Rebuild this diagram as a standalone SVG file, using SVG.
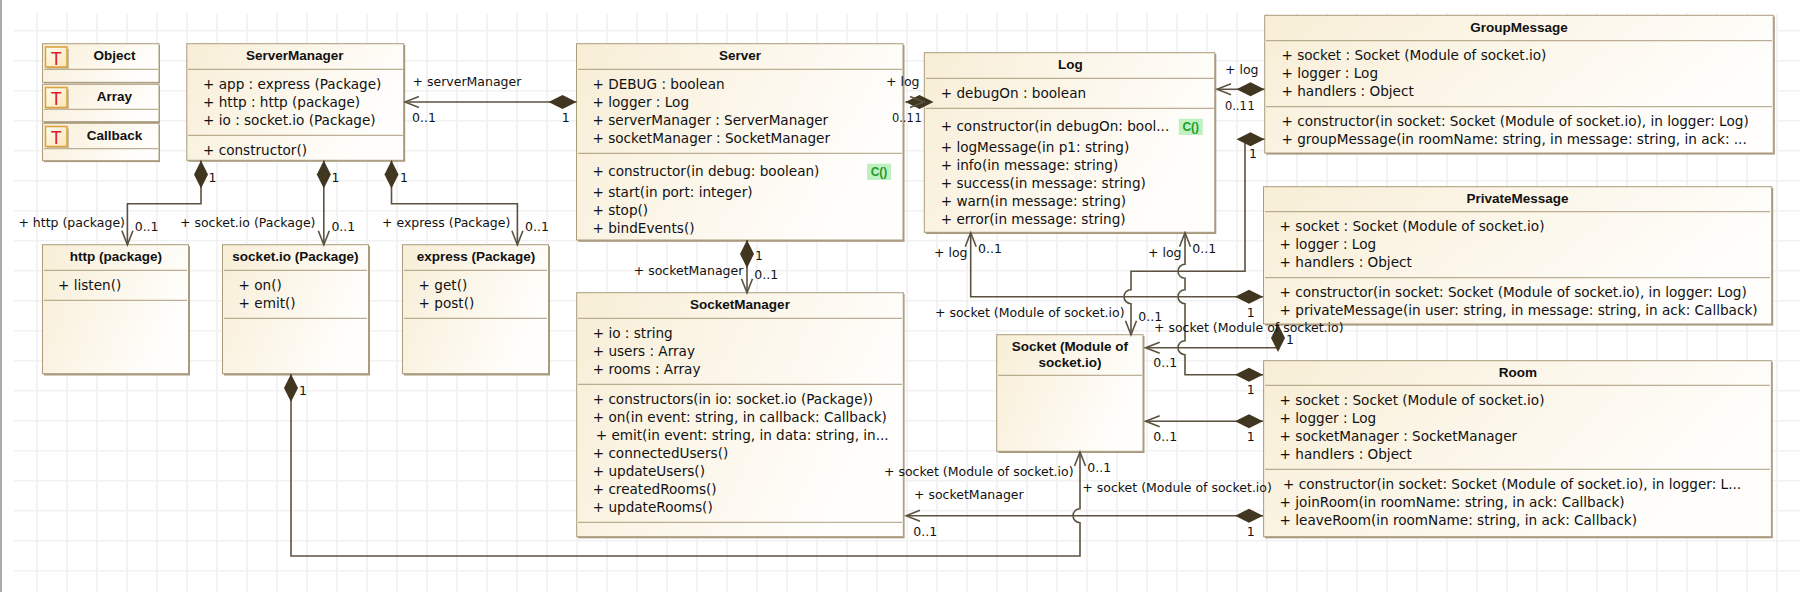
<svg xmlns="http://www.w3.org/2000/svg" width="1800" height="592" viewBox="0 0 1800 592">
<style>
text{font-family:"DejaVu Sans",sans-serif;fill:#111}
.t{font-family:"Liberation Sans",sans-serif;font-weight:700;font-size:13.5px;text-anchor:middle}
.r{font-size:13.6px}
.l{font-size:12.5px}
.m{font-size:11.4px}
.box{fill:url(#g);stroke:#ab9c7c;stroke-width:1}
.sh{fill:#a89a80}
.d{stroke:#ab9c7c;stroke-width:1;fill:none}
.c{fill:none;stroke:#5c5240;stroke-width:1.6}
.ic{fill:url(#ig);stroke:#dba23f;stroke-width:1.6}
.ish{fill:#c9bfa8}
.it{font-family:"Liberation Sans",sans-serif;font-size:18px;fill:#dc1c2c;text-anchor:middle}
.bd{fill:#bff0c0}
.bt{font-family:"Liberation Sans",sans-serif;font-weight:700;font-size:12px;fill:#1c9c2c;text-anchor:middle}
.grid{stroke:#f1f1f1;stroke-width:1.6;fill:none}
</style>
<defs>
<linearGradient id="g" x1="0" y1="0" x2="1" y2="0.35"><stop offset="0" stop-color="#f8eed6"/><stop offset="1" stop-color="#fffefc"/></linearGradient>
<linearGradient id="ig" x1="0" y1="0" x2="1" y2="1"><stop offset="0" stop-color="#fffdf5"/><stop offset="1" stop-color="#fbe6b4"/></linearGradient>
<marker id="dia" markerUnits="userSpaceOnUse" markerWidth="30" markerHeight="16" viewBox="0 0 30 16" refX="1" refY="8" orient="auto"><path d="M1 8L15 1L29 8L15 15Z" fill="#413721"/></marker>
<marker id="arr" markerUnits="userSpaceOnUse" markerWidth="18" markerHeight="16" viewBox="0 0 18 16" refX="16" refY="8" orient="auto"><path d="M2 2.5L16 8L2 13.5" fill="none" stroke="#5c5240" stroke-width="1.6"/></marker>
</defs>
<rect width="1800" height="592" fill="#fff"/>
<rect width="2" height="592" fill="#aaa"/>
<path class="grid" d="M14 30.7H1800M14 60.7H1800M14 90.7H1800M14 120.7H1800M14 150.7H1800M14 180.7H1800M14 210.7H1800M14 240.7H1800M14 270.7H1800M14 300.7H1800M14 330.7H1800M14 360.7H1800M14 390.7H1800M14 420.7H1800M14 450.7H1800M14 480.7H1800M14 510.7H1800M14 540.7H1800M14 570.7H1800"/>
<path class="grid" d="M37 13V592M67 13V592M97 13V592M127 13V592M157 13V592M187 13V592M217 13V592M247 13V592M277 13V592M307 13V592M337 13V592M367 13V592M397 13V592M427 13V592M457 13V592M487 13V592M517 13V592M547 13V592M577 13V592M607 13V592M637 13V592M667 13V592M697 13V592M727 13V592M757 13V592M787 13V592M817 13V592M847 13V592M877 13V592M907 13V592M937 13V592M967 13V592M997 13V592M1027 13V592M1057 13V592M1087 13V592M1117 13V592M1147 13V592M1177 13V592M1207 13V592M1237 13V592M1267 13V592M1297 13V592M1327 13V592M1357 13V592M1387 13V592M1417 13V592M1447 13V592M1477 13V592M1507 13V592M1537 13V592M1567 13V592M1597 13V592M1627 13V592M1657 13V592M1687 13V592M1717 13V592M1747 13V592M1777 13V592"/>

<g id="Object"><rect class="sh" x="44" y="45" width="116" height="38.5"/><rect class="box" x="42.5" y="43.7" width="116.5" height="38.6"/><path class="d" d="M44 69.3H158"/><rect class="ish" x="47" y="49" width="22" height="20"/><rect class="ic" x="45.5" y="47" width="21.5" height="20"/><text class="it" x="56.2" y="65">T</text><text class="t" x="114.5" y="60">Object</text></g>
<g id="Array"><rect class="sh" x="44" y="85.6" width="116" height="37.5"/><rect class="box" x="42.5" y="84.3" width="116.5" height="37.4"/><path class="d" d="M44 109.3H158"/><rect class="ish" x="47" y="89.5" width="22" height="20"/><rect class="ic" x="45.5" y="87.5" width="21.5" height="20"/><text class="it" x="56.2" y="105">T</text><text class="t" x="114.5" y="101">Array</text></g>
<g id="Callback"><rect class="sh" x="44" y="124.6" width="116" height="37.5"/><rect class="box" x="42.5" y="123.3" width="116.5" height="37.4"/><path class="d" d="M44 148.7H158"/><rect class="ish" x="47" y="128.5" width="22" height="20"/><rect class="ic" x="45.5" y="126.5" width="21.5" height="20"/><text class="it" x="56.2" y="144.3">T</text><text class="t" x="114.5" y="140">Callback</text></g>

<g id="ServerManager"><rect class="sh" x="188.3" y="45" width="216.9" height="116.8"/><rect class="box" x="186.8" y="43.7" width="216.9" height="116.6"/><path class="d" d="M188 69.3H403M188 135.3H403"/>
<text class="t" x="294.7" y="60">ServerManager</text>
<text class="r" x="203" y="89.3">+ app : express (Package)</text><text class="r" x="203" y="107.3">+ http : http (package)</text><text class="r" x="203" y="125.3">+ io : socket.io (Package)</text><text class="r" x="203" y="155">+ constructor()</text></g>

<g id="Server"><rect class="sh" x="578" y="45" width="326.5" height="196.8"/><rect class="box" x="576.5" y="43.7" width="326.5" height="196.3"/><path class="d" d="M578 69.3H902M578 153.3H902"/>
<text class="t" x="740" y="60">Server</text>
<text class="r" x="592.5" y="89">+ DEBUG : boolean</text><text class="r" x="592.5" y="107">+ logger : Log</text><text class="r" x="592.5" y="125">+ serverManager : ServerManager</text><text class="r" x="592.5" y="143">+ socketManager : SocketManager</text>
<text class="r" x="592.5" y="176">+ constructor(in debug: boolean)</text><rect class="bd" x="867" y="163.7" width="24" height="16.3"/><text class="bt" x="879" y="176">C()</text>
<text class="r" x="592.5" y="197">+ start(in port: integer)</text><text class="r" x="592.5" y="215">+ stop()</text><text class="r" x="592.5" y="233">+ bindEvents()</text></g>

<g id="Log"><rect class="sh" x="925.8" y="54" width="290.5" height="180"/><rect class="box" x="924.3" y="52.7" width="290.5" height="179.6"/><path class="d" d="M926 78.3H1214M926 108.3H1214"/>
<text class="t" x="1070.4" y="69">Log</text>
<text class="r" x="940.7" y="98">+ debugOn : boolean</text>
<text class="r" x="940.7" y="131">+ constructor(in debugOn: bool...</text><rect class="bd" x="1178.8" y="118.7" width="24" height="16.3"/><text class="bt" x="1190.8" y="131">C()</text>
<text class="r" x="940.7" y="152">+ logMessage(in p1: string)</text><text class="r" x="940.7" y="170">+ info(in message: string)</text><text class="r" x="940.7" y="188">+ success(in message: string)</text><text class="r" x="940.7" y="206">+ warn(in message: string)</text><text class="r" x="940.7" y="224">+ error(in message: string)</text></g>

<g id="GroupMessage"><rect class="sh" x="1266.2" y="16.6" width="508.6" height="138"/><rect class="box" x="1264.7" y="15.3" width="508.6" height="137.7"/><path class="d" d="M1266 40.7H1772M1266 106.7H1772"/>
<text class="t" x="1519" y="32">GroupMessage</text>
<text class="r" x="1281.5" y="60">+ socket : Socket (Module of socket.io)</text><text class="r" x="1281.5" y="78">+ logger : Log</text><text class="r" x="1281.5" y="96">+ handlers : Object</text><text class="r" x="1281.5" y="126">+ constructor(in socket: Socket (Module of socket.io), in logger: Log)</text><text class="r" x="1281.5" y="144">+ groupMessage(in roomName: string, in message: string, in ack: ...</text></g>

<g id="PrivateMessage"><rect class="sh" x="1265" y="188" width="508.2" height="137.6"/><rect class="box" x="1263.5" y="186.7" width="508.2" height="137.3"/><path class="d" d="M1265 211.7H1770M1265 277.7H1770"/>
<text class="t" x="1517.6" y="203">PrivateMessage</text>
<text class="r" x="1279.6" y="231">+ socket : Socket (Module of socket.io)</text><text class="r" x="1279.6" y="249">+ logger : Log</text><text class="r" x="1279.6" y="267">+ handlers : Object</text><text class="r" x="1279.6" y="297">+ constructor(in socket: Socket (Module of socket.io), in logger: Log)</text><text class="r" x="1279.6" y="315">+ privateMessage(in user: string, in message: string, in ack: Callback)</text></g>

<g id="Room"><rect class="sh" x="1265" y="362" width="507.8" height="176.3"/><rect class="box" x="1263.6" y="360.7" width="507.8" height="176"/><path class="d" d="M1265 385.3H1770M1265 469.3H1770"/>
<text class="t" x="1517.9" y="376.7">Room</text>
<text class="r" x="1279.6" y="404.7">+ socket : Socket (Module of socket.io)</text><text class="r" x="1279.6" y="422.7">+ logger : Log</text><text class="r" x="1279.6" y="440.7">+ socketManager : SocketManager</text><text class="r" x="1279.6" y="458.7">+ handlers : Object</text>
<text class="r" x="1283" y="488.7">+ constructor(in socket: Socket (Module of socket.io), in logger: L...</text><text class="r" x="1279.6" y="506.7">+ joinRoom(in roomName: string, in ack: Callback)</text><text class="r" x="1279.6" y="524.7">+ leaveRoom(in roomName: string, in ack: Callback)</text></g>

<g id="SocketManager"><rect class="sh" x="578" y="294" width="326.6" height="244.3"/><rect class="box" x="576.7" y="292.7" width="326.6" height="244"/><path class="d" d="M578 318.3H902M578 384.3H902M578 522.3H902"/>
<text class="t" x="740" y="309">SocketManager</text>
<text class="r" x="592.7" y="338.3">+ io : string</text><text class="r" x="592.7" y="356.3">+ users : Array</text><text class="r" x="592.7" y="374.3">+ rooms : Array</text>
<text class="r" x="592.7" y="404">+ constructors(in io: socket.io (Package))</text><text class="r" x="592.7" y="422">+ on(in event: string, in callback: Callback)</text><text class="r" x="595.7" y="440">+ emit(in event: string, in data: string, in...</text><text class="r" x="592.7" y="458">+ connectedUsers()</text><text class="r" x="592.7" y="476">+ updateUsers()</text><text class="r" x="592.7" y="494">+ createdRooms()</text><text class="r" x="592.7" y="512">+ updateRooms()</text></g>

<g id="http"><rect class="sh" x="44" y="246" width="146" height="129.5"/><rect class="box" x="42.5" y="244.7" width="146" height="129"/><path class="d" d="M44 270.3H187M44 300.3H187"/><text class="t" x="116" y="260.7">http (package)</text><text class="r" x="58" y="290">+ listen()</text></g>
<g id="socketio"><rect class="sh" x="224" y="246" width="146" height="129.5"/><rect class="box" x="222.5" y="244.7" width="146" height="129"/><path class="d" d="M224 270.3H367M224 318.3H367"/><text class="t" x="295.4" y="260.7">socket.io (Package)</text><text class="r" x="238.6" y="290">+ on()</text><text class="r" x="238.6" y="308">+ emit()</text></g>
<g id="express"><rect class="sh" x="404" y="246" width="146" height="129.5"/><rect class="box" x="402.5" y="244.7" width="146" height="129"/><path class="d" d="M404 270.3H547M404 318.3H547"/><text class="t" x="476" y="260.7">express (Package)</text><text class="r" x="418.6" y="290">+ get()</text><text class="r" x="418.6" y="308">+ post()</text></g>

<g id="Socket"><rect class="sh" x="998.2" y="336" width="146.3" height="117"/><rect class="box" x="996.7" y="334.7" width="146.3" height="116.6"/><path class="d" d="M998 375.3H1142"/><text class="t" x="1070" y="350.7">Socket (Module of</text><text class="t" x="1070" y="367">socket.io)</text></g>

<g id="connectors">
<path class="c" marker-start="url(#dia)" marker-end="url(#arr)" d="M576.5 102H404.9"/>
<path class="c" marker-start="url(#dia)" marker-end="url(#arr)" d="M201 160.5V203.7H127.4V244.7"/>
<path class="c" marker-start="url(#dia)" marker-end="url(#arr)" d="M323.8 160.5V244.7"/>
<path class="c" marker-start="url(#dia)" marker-end="url(#arr)" d="M391.5 160.5V203.7H517.4V244.7"/>
<path class="c" marker-start="url(#dia)" marker-end="url(#arr)" d="M747 240V292.7"/>
<path class="c" marker-start="url(#dia)" marker-end="url(#arr)" d="M905.5 102H924"/>
<path class="c" marker-start="url(#dia)" marker-end="url(#arr)" d="M1264.5 89.3H1217"/>
<path class="c" marker-start="url(#dia)" marker-end="url(#arr)" d="M1264.5 139.3H1245V271.3H1131V289.7A7 7 0 0 0 1131 303.7V334.7"/>
<path class="c" marker-start="url(#dia)" marker-end="url(#arr)" d="M1263 296.7H970.7V232.7"/>
<path class="c" marker-start="url(#dia)" marker-end="url(#arr)" d="M1263 374.7H1185V354.7A7 7 0 0 1 1185 340.7V303.7A7 7 0 0 1 1185 289.7V278.3A7 7 0 0 1 1185 264.3V232.7"/>
<path class="c" marker-start="url(#dia)" marker-end="url(#arr)" d="M1278 324V347.7H1145.7"/>
<path class="c" marker-start="url(#dia)" marker-end="url(#arr)" d="M1263 421.3H1145.7"/>
<path class="c" marker-start="url(#dia)" marker-end="url(#arr)" d="M1263 515.7H906"/>
<path class="c" marker-start="url(#dia)" marker-end="url(#arr)" d="M291 374V556H1080V522.7A7 7 0 0 1 1080 508.7V452"/>
</g>

<g id="labels">
<text class="l" x="412.5" y="86">+ serverManager</text><text class="l" x="412" y="121.7">0..1</text><text class="l" x="561.8" y="121.7">1</text>
<text class="l" x="208.6" y="181.7">1</text><text class="l" x="18.4" y="226.7">+ http (package)</text><text class="l" x="134.7" y="231">0..1</text>
<text class="l" x="331.4" y="181.7">1</text><text class="l" x="180" y="226.7">+ socket.io (Package)</text><text class="l" x="331.4" y="231">0..1</text>
<text class="l" x="400" y="181.7">1</text><text class="l" x="382" y="226.7">+ express (Package)</text><text class="l" x="525" y="231">0..1</text>
<text class="l" x="755" y="260">1</text><text class="l" x="633.7" y="275">+ socketManager</text><text class="l" x="754.3" y="278.7">0..1</text>
<text class="l" x="886" y="86">+ log</text><text class="m" x="892" y="121.7">0..1</text><text class="m" x="914.5" y="121.7">1</text>
<text class="l" x="1225" y="74">+ log</text><text class="m" x="1225" y="110">0..1</text><text class="m" x="1247.5" y="110">1</text>
<text class="l" x="1249" y="158.3">1</text><text class="l" x="935" y="316.7">+ socket (Module of socket.io)</text><text class="l" x="1138.3" y="321">0..1</text>
<text class="l" x="934" y="256.7">+ log</text><text class="l" x="978" y="253.3">0..1</text><text class="l" x="1246.7" y="316.7">1</text>
<text class="l" x="1148" y="256.7">+ log</text><text class="l" x="1192.3" y="253.3">0..1</text><text class="l" x="1246.7" y="394">1</text>
<text class="l" x="1286" y="344">1</text><text class="l" x="1154" y="331.7">+ socket (Module of socket.io)</text><text class="l" x="1153.3" y="367.3">0..1</text>
<text class="l" x="1153.3" y="440.7">0..1</text><text class="l" x="1246.7" y="440.7">1</text>
<text class="l" x="884" y="475.7">+ socket (Module of socket.io)</text><text class="l" x="1082.3" y="491.7">+ socket (Module of socket.io)</text><text class="l" x="1087.3" y="472.3">0..1</text>
<text class="l" x="914" y="499.3">+ socketManager</text><text class="l" x="913.3" y="536">0..1</text><text class="l" x="1246.7" y="535.7">1</text>
<text class="l" x="299" y="395">1</text>
</g>
</svg>
